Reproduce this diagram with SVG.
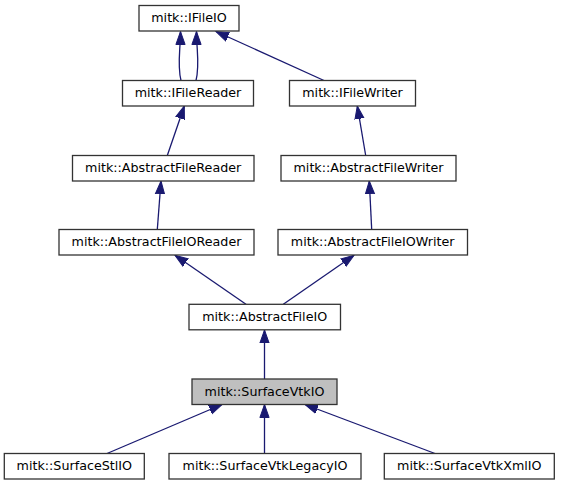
<svg xmlns="http://www.w3.org/2000/svg" width="561" height="485" viewBox="0 0 561 485">
<defs>
<style>
.node rect{fill:#ffffff;stroke:#333333;stroke-width:1.3}
.node.hl rect{fill:#bfbfbf}
.node text{font-family:"DejaVu Sans","Liberation Sans",sans-serif;font-size:12.7px;fill:#000000;text-anchor:middle}
.edges path{fill:none;stroke:#191970;stroke-width:1.3}
</style>
<marker id="ah" markerUnits="userSpaceOnUse" markerWidth="16" markerHeight="12" refX="13" refY="0" viewBox="0 -6 16 12" orient="auto">
<path d="M0,-4.6 L13,0 L0,4.6 Z" fill="#191970" stroke="#191970" stroke-width="1"/>
</marker>
</defs>
<rect width="561" height="485" fill="#ffffff"/>
<g class="edges">
<path d="M181,80.5 C177,65 180.5,50 180.5,31.5" marker-end="url(#ah)"/>
<path d="M196,80.5 C200,65 196.5,50 196.5,31.5" marker-end="url(#ah)"/>
<path d="M324,80.5 L216,31.5" marker-end="url(#ah)"/>
<path d="M167.3,155.5 L184.3,106" marker-end="url(#ah)"/>
<path d="M365.7,155.5 L357.3,106" marker-end="url(#ah)"/>
<path d="M157.3,229.5 L161,181" marker-end="url(#ah)"/>
<path d="M371.7,229.5 L369.3,181" marker-end="url(#ah)"/>
<path d="M246,304.3 L175,255.3" marker-end="url(#ah)"/>
<path d="M283.3,304.3 L354,255.3" marker-end="url(#ah)"/>
<path d="M264.5,379 L264.5,330" marker-end="url(#ah)"/>
<path d="M107,453.5 L222,404.5" marker-end="url(#ah)"/>
<path d="M264.5,453.5 L264.5,404.5" marker-end="url(#ah)"/>
<path d="M435,453.5 L305,404.5" marker-end="url(#ah)"/>
</g>
<g id="node-IFileIO" class="node"><rect x="139" y="5.5" width="100" height="25.5"/><text x="189" y="22">mitk::IFileIO</text></g>
<g id="node-IFileReader" class="node"><rect x="122.5" y="80.5" width="131" height="25.5"/><text x="188" y="97">mitk::IFileReader</text></g>
<g id="node-IFileWriter" class="node"><rect x="289.5" y="80.5" width="126" height="25.5"/><text x="352.5" y="97">mitk::IFileWriter</text></g>
<g id="node-AbstractFileReader" class="node"><rect x="72.5" y="155.5" width="181.5" height="25.5"/><text x="163.2" y="172">mitk::AbstractFileReader</text></g>
<g id="node-AbstractFileWriter" class="node"><rect x="281" y="155.5" width="175" height="25.5"/><text x="368.5" y="172">mitk::AbstractFileWriter</text></g>
<g id="node-AbstractFileIOReader" class="node"><rect x="59" y="229.5" width="195" height="25.5"/><text x="156.5" y="246">mitk::AbstractFileIOReader</text></g>
<g id="node-AbstractFileIOWriter" class="node"><rect x="278" y="229.5" width="189.5" height="25.5"/><text x="372.7" y="246">mitk::AbstractFileIOWriter</text></g>
<g id="node-AbstractFileIO" class="node"><rect x="189" y="304.3" width="151.5" height="25.5"/><text x="264.7" y="320.8">mitk::AbstractFileIO</text></g>
<g id="node-SurfaceVtkIO" class="node hl"><rect x="192" y="379" width="145" height="25.5"/><text x="264.5" y="395.5">mitk::SurfaceVtkIO</text></g>
<g id="node-SurfaceStlIO" class="node"><rect x="4.3" y="453.5" width="140" height="25.5"/><text x="74.3" y="470">mitk::SurfaceStlIO</text></g>
<g id="node-SurfaceVtkLegacyIO" class="node"><rect x="169" y="453.5" width="192" height="25.5"/><text x="265" y="470">mitk::SurfaceVtkLegacyIO</text></g>
<g id="node-SurfaceVtkXmlIO" class="node"><rect x="384.3" y="453.5" width="170" height="25.5"/><text x="469.3" y="470">mitk::SurfaceVtkXmlIO</text></g>
</svg>
